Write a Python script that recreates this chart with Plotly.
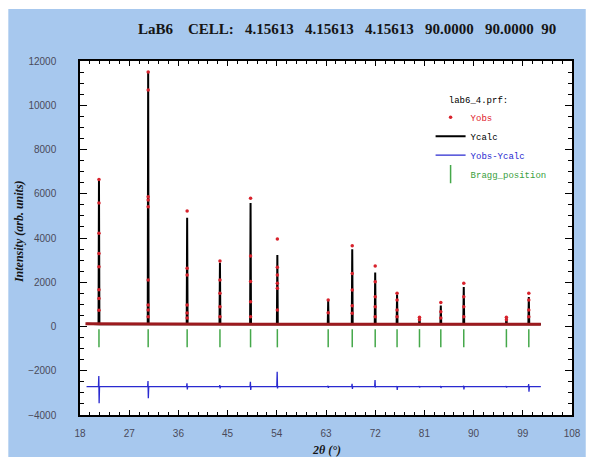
import plotly.graph_objects as go

# ---------------- data ----------------
peak_pos = [21.47, 30.47, 37.6, 43.6, 49.2, 54.1, 63.4, 67.8, 72.0, 76.0, 80.1, 84.0, 88.2, 96.0, 100.1]
ycalc_peak = [6600, 11550, 4920, 2880, 5580, 3230, 1150, 3490, 2440, 1450, 380, 950, 1790, 400, 1330]
yobs_dots = [
    [6640, 5580, 4210, 3300, 2700, 1660, 1260, 730],
    [11500, 10690, 5870, 5720, 5410, 2100, 970, 750, 440],
    [5220, 2630, 2330, 970, 610, 380],
    [2960, 2100, 1500, 895, 443],
    [5800, 3190, 2030, 1120, 440],
    [3950, 2680, 2330, 1950, 1730, 745],
    [1200, 625],
    [3650, 2400, 1650, 940, 600],
    [2730, 2025, 1350, 895, 440],
    [1500, 1200, 745, 440],
    [420, 300],
    [1090, 670, 385],
    [1950, 1350, 895, 440],
    [420, 300],
    [1500, 1200, 745, 440],
]
bg_x = [19.0, 30.0, 50.0, 80.0, 102.3]
bg_y = [120, 110, 105, 105, 105]
diff_base = -2720
diff_hi = [-2237, -2463, -2570, -2650, -2500, -2043, -2680, -2590, -2418, -2700, -2690, -2690, -2680, -2690, -2600]
diff_lo = [-3472, -3246, -2840, -2800, -2870, -2800, -2770, -2820, -2760, -2870, -2760, -2780, -2840, -2760, -2946]
bragg_level = -530
x_start, x_end = 19.2, 102.3

# ---------------- build traces ----------------
calc_x, calc_y = [x_start], [bg_y[0]]
for p, h in zip(peak_pos, ycalc_peak):
    calc_x += [p - 0.08, p, p + 0.08]
    calc_y += [105, h, 105]
calc_x.append(x_end)
calc_y.append(bg_y[-1])

dot_x, dot_y = [], []
for p, ds in zip(peak_pos, yobs_dots):
    for d in ds:
        dot_x.append(p)
        dot_y.append(d)

dif_x, dif_y = [x_start], [diff_base]
for p, hi, lo in zip(peak_pos, diff_hi, diff_lo):
    dif_x += [p - 0.1, p - 0.03, p + 0.03, p + 0.1]
    dif_y += [diff_base, hi, lo, diff_base]
dif_x.append(x_end)
dif_y.append(diff_base)

fig = go.Figure()
fig.add_trace(go.Scatter(x=calc_x, y=calc_y, mode="lines", name="Ycalc",
                         line=dict(color="black", width=2), legendrank=2))
fig.add_trace(go.Scatter(x=bg_x, y=bg_y, mode="lines", showlegend=False,
                         line=dict(color="#9c1a1e", width=3)))
fig.add_trace(go.Scatter(x=dot_x, y=dot_y, mode="markers",
                         name='<span style="color:#e0202a">Yobs</span>',
                         marker=dict(color="#d8222c", size=3.5), legendrank=1))
fig.add_trace(go.Scatter(x=dif_x, y=dif_y, mode="lines",
                         name='<span style="color:#2a2ad0">Yobs-Ycalc</span>',
                         line=dict(color="#2a2ad0", width=1.3), legendrank=3))
fig.add_trace(go.Scatter(x=peak_pos, y=[bragg_level] * len(peak_pos), mode="markers",
                         name='<span style="color:#3aa040">Bragg_position</span>',
                         marker=dict(symbol="line-ns", size=13, color="#45a84a",
                                     line=dict(color="#45a84a", width=1.5)),
                         legendrank=4))

W, H = 590, 457
L, R, T, B = 80, 9, 61, 42
pw, ph = W - L - R, H - T - B


def px(x):
    return (x - L) / pw


def py(y):
    return (H - B - y) / ph


tickfont = dict(family="Liberation Sans, Arial", size=10, color="#4a4a5a")

fig.update_layout(
    width=W, height=H,
    margin=dict(l=L, r=R, t=T, b=B),
    paper_bgcolor="white",
    plot_bgcolor="white",
    showlegend=True,
    legend=dict(x=px(437), y=py(91), xanchor="left", yanchor="top",
                bgcolor="rgba(0,0,0,0)",
                font=dict(family="Liberation Mono", size=9, color="black"),
                title=dict(text="\u00a0\u00a0\u00a0lab6_4.prf:",
                           font=dict(family="Liberation Mono", size=9, color="black")),
                itemwidth=30, tracegroupgap=0),
    xaxis=dict(range=[18, 108], tickmode="linear", tick0=18, dtick=9,
               showline=True, linecolor="black", linewidth=1.5, mirror="ticks",
               ticks="inside", ticklen=5, tickcolor="black", tickwidth=1,
               minor=dict(dtick=1.8, ticks="inside", ticklen=3, tickcolor="black"),
               showgrid=False, zeroline=False, tickfont=tickfont,
               ticklabelstandoff=8),
    yaxis=dict(range=[-4000, 12000], tickmode="linear", tick0=0, dtick=2000,
               tickformat="d",
               showline=True, linecolor="black", linewidth=1.5, mirror="ticks",
               ticks="inside", ticklen=7, tickcolor="black", tickwidth=1,
               minor=dict(dtick=500, ticks="inside", ticklen=4, tickcolor="black"),
               showgrid=False, zeroline=False, tickfont=tickfont,
               ticklabelstandoff=20),
    shapes=[
        dict(type="rect", xref="paper", yref="paper", x0=px(7), x1=px(W + 5),
             y0=py(H + 5), y1=py(9), fillcolor="#a7c8ee", line=dict(width=0),
             layer="below"),
        dict(type="rect", xref="paper", yref="paper", x0=0, x1=1, y0=0, y1=1,
             fillcolor="white", line=dict(width=0), layer="below"),
    ],
    annotations=[
        dict(text="<b>LaB6\u00a0\u00a0\u00a0\u00a0CELL:\u00a0\u00a0\u00a04.15613\u00a0\u00a0\u00a04.15613"
                  "\u00a0\u00a0\u00a04.15613\u00a0\u00a0\u00a090.0000\u00a0\u00a0\u00a090.0000\u00a0\u00a090</b>",
             xref="paper", yref="paper", x=px(137), y=py(29), xanchor="left", yanchor="middle",
             showarrow=False, font=dict(family="Liberation Serif", size=15, color="#151515")),
        dict(text="<b><i>Intensity (arb. units)</i></b>", textangle=-90,
             xref="paper", yref="paper", x=px(18), y=py(232), xanchor="center", yanchor="middle",
             showarrow=False, font=dict(family="Liberation Serif", size=12, color="#151515")),
        dict(text="<b><i>2θ (°)</i></b>",
             xref="paper", yref="paper", x=px(331), y=py(450), xanchor="center", yanchor="middle",
             showarrow=False, font=dict(family="Liberation Serif", size=12, color="#151515")),
    ],
)

fig.write_html("out.html")
